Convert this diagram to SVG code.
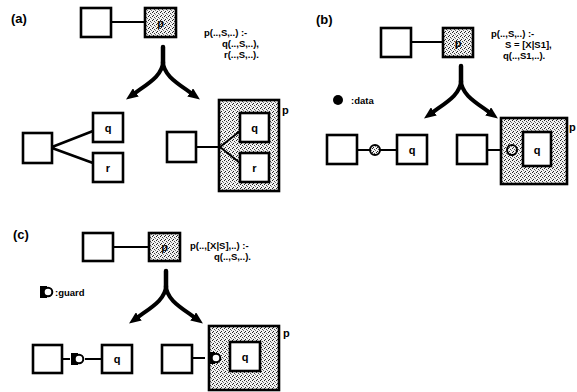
<svg xmlns="http://www.w3.org/2000/svg" width="577" height="392" viewBox="0 0 577 392">
<style>
.box{fill:#fff;stroke:#000;stroke-width:2.6}
.sh{fill:url(#dots);stroke:#000;stroke-width:2.6}
.ln{stroke:#000;stroke-width:2;fill:none}
.t{font-family:"Liberation Sans",Arial,sans-serif;font-weight:bold;fill:#000}
.code{font-size:9.5px}
.lab{font-size:13px}
.bl{font-size:11px;text-anchor:middle}
.arr{stroke:#000;stroke-width:4;fill:none;stroke-linecap:round}
</style>
<defs>
<pattern id="dots" width="4" height="4" patternUnits="userSpaceOnUse">
<rect width="4" height="4" fill="#f2f2f2"/>
<rect x="0" y="0" width="1" height="1" fill="#222"/>
<rect x="2" y="1" width="1" height="1" fill="#444"/>
<rect x="1" y="3" width="1" height="1" fill="#222"/>
<rect x="3" y="2" width="1" height="1" fill="#777"/>
</pattern>
<marker id="ah" viewBox="0 0 12 10" refX="1" refY="5" markerWidth="12" markerHeight="10" markerUnits="userSpaceOnUse" orient="auto">
<path d="M0,0 L12,5 L0,10 z" fill="#000"/>
</marker>
<g id="fork">
<path class="arr" d="M0,0 L0,16" style="stroke-width:4.5"/>
<path class="arr" d="M0,14 C0,28 -14,36 -28,46" marker-end="url(#ah)"/>
<path class="arr" d="M0,14 C0,28 14,36 28,46" marker-end="url(#ah)"/>
</g>
<g id="guardIcon">
<rect x="-6" y="-6" width="7" height="12" fill="#000"/>
<circle cx="2" cy="0" r="4.3" fill="#fff" stroke="#000" stroke-width="2"/>
</g>
</defs>

<!-- panel labels -->
<text class="t lab" x="11" y="23">(a)</text>
<text class="t lab" x="316" y="24">(b)</text>
<text class="t lab" x="13" y="239">(c)</text>

<!-- code texts -->
<g id="code-a" class="t code">
<text x="204" y="36">p(..,S,..) :-</text>
<text x="222" y="47">q(..,S,..),</text>
<text x="224" y="58">r(..,S,..).</text>
</g>
<g id="code-b" class="t code">
<text x="491" y="37">p(..,S,..) :-</text>
<text x="505" y="48">S = [X|S1],</text>
<text x="503" y="59">q(..,S1,..).</text>
</g>
<g id="code-c" class="t code">
<text x="190" y="249">p(..,[X|S],..) :-</text>
<text x="214" y="260">q(..,S,..).</text>
</g>

<!-- legends -->
<g id="legend-data">
<circle cx="338" cy="100" r="5" fill="#000"/>
<text class="t code" x="351" y="104">:data</text>
</g>
<g id="legend-guard">
<use href="#guardIcon" x="46" y="292"/>
<text class="t code" x="55" y="296">:guard</text>
</g>

<!-- connectors -->
<g id="connectors">
<line class="ln" x1="111" y1="22" x2="145" y2="22"/>
<line class="ln" x1="411" y1="42" x2="443" y2="42"/>
<line class="ln" x1="113" y1="247" x2="149" y2="247"/>
<use href="#fork" x="163" y="47"/>
<use href="#fork" x="461" y="66"/>
<use href="#fork" x="166" y="271"/>
<path class="ln" d="M52,147 L93,131 M52,148 L93,163" style="stroke-width:2.6"/>
<path class="ln" d="M196,147 L220,147 L240,131 M220,147 L240,163"/>
<path class="ln" d="M357,150 L370,150 M380,150 L397,150"/>
<path class="ln" d="M487,150 L507,150 M518,150 L523,150"/>
<path class="ln" d="M62,359 L70,359 M85,359 L102,359"/>
<path class="ln" d="M192,358 L205,358 M220,358 L230,358"/>
</g>

<!-- panel (a) -->
<g id="a-top-left"><rect class="box" x="81" y="8" width="30" height="29"/></g>
<g id="a-top-p"><rect class="sh" x="145" y="8" width="31" height="29"/><text class="t bl" x="160.5" y="27">p</text></g>
<g id="a-bl-left"><rect class="box" x="23" y="133" width="29" height="30"/></g>
<g id="a-bl-q"><rect class="box" x="93" y="113" width="30" height="29"/><text class="t bl" x="108" y="132">q</text></g>
<g id="a-bl-r"><rect class="box" x="93" y="153" width="30" height="29"/><text class="t bl" x="108" y="172">r</text></g>
<g id="a-br-left"><rect class="box" x="167" y="132" width="29" height="30"/></g>
<g id="a-br-p">
<rect class="sh" x="219" y="100" width="60" height="91"/>
<path class="ln" d="M220,147 L240,131 M220,147 L240,163"/>
<text class="t" x="282" y="114" style="font-size:11px">p</text>
</g>
<g id="a-br-q"><rect class="box" x="240" y="113" width="29" height="29"/><text class="t bl" x="254.5" y="132">q</text></g>
<g id="a-br-r"><rect class="box" x="240" y="153" width="29" height="29"/><text class="t bl" x="254.5" y="172">r</text></g>

<!-- panel (b) -->
<g id="b-top-left"><rect class="box" x="381" y="28" width="30" height="29"/></g>
<g id="b-top-p"><rect class="sh" x="443" y="28" width="30" height="29"/><text class="t bl" x="458" y="47">p</text></g>
<g id="b-bl-left"><rect class="box" x="327" y="135" width="30" height="29"/></g>
<g id="b-bl-data"><circle cx="375" cy="150" r="5" fill="url(#dots)" stroke="#000" stroke-width="2"/></g>
<g id="b-bl-q"><rect class="box" x="397" y="135" width="30" height="29"/><text class="t bl" x="412" y="154">q</text></g>
<g id="b-br-left"><rect class="box" x="457" y="135" width="30" height="29"/></g>
<g id="b-br-p">
<rect class="sh" x="501" y="118" width="66" height="66"/>
<text class="t" x="569" y="131" style="font-size:11px">p</text>
</g>
<g id="b-br-q"><rect class="box" x="523" y="132" width="28" height="34"/><text class="t bl" x="537" y="154">q</text></g>
<g id="b-br-data"><circle cx="512" cy="150" r="5" fill="url(#dots)" stroke="#000" stroke-width="2"/></g>

<!-- panel (c) -->
<g id="c-top-left"><rect class="box" x="83" y="233" width="30" height="28"/></g>
<g id="c-top-p"><rect class="sh" x="149" y="233" width="31" height="28"/><text class="t bl" x="164.5" y="251">p</text></g>
<g id="c-bl-left"><rect class="box" x="33" y="345" width="29" height="28"/></g>
<g id="c-bl-guard"><use href="#guardIcon" x="77" y="359"/></g>
<g id="c-bl-q"><rect class="box" x="102" y="345" width="30" height="28"/><text class="t bl" x="117" y="363">q</text></g>
<g id="c-br-left"><rect class="box" x="162" y="345" width="30" height="28"/></g>
<g id="c-br-p">
<rect class="sh" x="209" y="326" width="70" height="64"/>
<text class="t" x="283" y="337" style="font-size:11px">p</text>
</g>
<g id="c-br-q"><rect class="box" x="230" y="342" width="30" height="29"/><text class="t bl" x="245" y="361">q</text></g>
<g id="c-br-guard"><use href="#guardIcon" x="214" y="358"/></g>
</svg>
